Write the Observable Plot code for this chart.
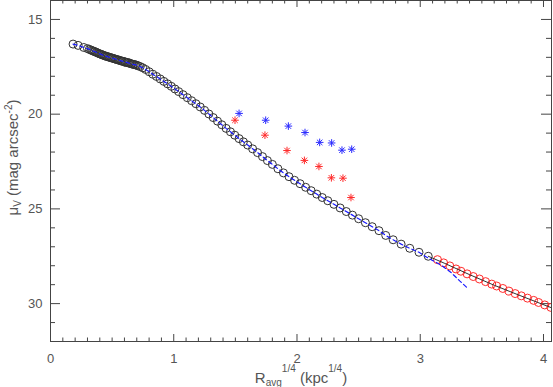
<!DOCTYPE html>
<html><head><meta charset="utf-8">
<script src="https://cdn.jsdelivr.net/npm/d3@7"></script>
<script src="https://cdn.jsdelivr.net/npm/@observablehq/plot@0.6"></script>
<style>html,body{margin:0;padding:0;background:#fff;} #chart{width:553px;height:387px;overflow:hidden}</style>
</head><body><div id="chart"></div>
<script>
// Black profile points (R_avg^1/4, mu_V)
const blackR = [0.183,0.224,0.270,0.300,0.315,0.330,0.340,0.350,0.360,0.370,0.380,0.390,0.400,0.410,0.420,0.430,0.440,0.450,0.460,0.470,0.480,0.490,0.500,0.510,0.520,0.530,0.540,0.550,0.560,0.570,0.580,0.590,0.600,0.610,0.620,0.630,0.640,0.650,0.660,0.670,0.680,0.690,0.700,0.712,0.728,0.748,0.772,0.800,0.830,0.860,0.890,0.920,0.950,0.980,1.010,1.040,1.075,1.110,1.145,1.180,1.215,1.250,1.285,1.320,1.355,1.390,1.425,1.460,1.495,1.530,1.565,1.600,1.640,1.680,1.720,1.760,1.800,1.845,1.890,1.935,1.980,2.025,2.070,2.115,2.160,2.205,2.250,2.300,2.350,2.400,2.450,2.500,2.555,2.610,2.665,2.720,2.780,2.845,2.915,2.990,3.065];
const blackMu = [16.30,16.37,16.48,16.54,16.58,16.62,16.65,16.68,16.70,16.73,16.76,16.79,16.82,16.84,16.87,16.89,16.92,16.94,16.96,16.98,17.00,17.02,17.04,17.06,17.08,17.10,17.12,17.14,17.16,17.18,17.20,17.22,17.24,17.26,17.27,17.29,17.31,17.33,17.35,17.37,17.38,17.40,17.42,17.45,17.49,17.55,17.64,17.76,17.89,18.01,18.14,18.27,18.40,18.53,18.67,18.81,18.97,19.13,19.29,19.45,19.62,19.80,19.99,20.18,20.37,20.56,20.75,20.93,21.11,21.29,21.46,21.63,21.83,22.03,22.24,22.45,22.65,22.88,23.10,23.30,23.49,23.67,23.86,24.04,24.22,24.40,24.57,24.76,24.95,25.14,25.33,25.52,25.73,25.94,26.15,26.40,26.63,26.86,27.08,27.29,27.50];
// Red (outer) profile points
const redR = [3.14,3.19,3.24,3.29,3.33,3.38,3.43,3.48,3.53,3.58,3.62,3.67,3.72,3.77,3.82,3.87,3.92,3.96,4.01,4.06];
const redMu = [27.68,27.85,28.01,28.17,28.29,28.43,28.57,28.70,28.84,28.97,29.07,29.20,29.34,29.47,29.59,29.71,29.83,29.94,30.07,30.20];
// Blue dashed model beyond the black points
const blueExtR = [3.04,3.10,3.18,3.25,3.32,3.39];
const blueExtMu = [27.50,27.72,28.02,28.36,28.80,29.22];
// Black solid fit through outer points
const fitR = [3.065,3.20,3.40,3.60,3.80,4.065];
const fitMu = [27.50,27.88,28.47,29.03,29.55,30.22];
// Asterisks
const starBlueR = [1.530,1.746,1.930,2.065,2.184,2.281,2.365,2.444];
const starBlueMu = [19.96,20.32,20.63,20.97,21.49,21.52,21.90,21.85];
const starRedR = [1.497,1.740,1.919,2.060,2.178,2.279,2.373,2.438];
const starRedMu = [20.32,21.11,21.92,22.44,22.76,23.36,23.38,24.40];
// Ticks
const xMajor = [0,1,2,3,4];
const yMajor = [15,20,25,30];
const xMinor = d3.range(1, 41).map(i => i / 10).filter(v => Math.abs(v - Math.round(v)) > 1e-6);
const yMinor = d3.range(15, 32).filter(v => v % 5 !== 0);
const xDomain = [0, 4.065];
const yDomain = [32, 14];

const xLabel = "Ravg1/4 (kpc1/4)";
const yLabel = "μV (mag arcsec-2)";

const zip = (a, b) => a.map((r, i) => ({r, mu: b[i]}));
const black = zip(blackR, blackMu);
const red = zip(redR, redMu);
const blueModel = black.filter(d => d.r < 3.0).concat(zip(blueExtR, blueExtMu));
const fit = zip(fitR, fitMu);
const starsBlue = zip(starBlueR, starBlueMu);
const starsRed = zip(starRedR, starRedMu);

const asterisk = {
  draw(context, size) {
    const r = Math.sqrt(size / Math.PI);
    const d = r * 0.72;
    context.moveTo(0, -r); context.lineTo(0, r);
    context.moveTo(-r, 0); context.lineTo(r, 0);
    context.moveTo(-d, -d); context.lineTo(d, d);
    context.moveTo(-d, d); context.lineTo(d, -d);
  }
};

const W = 553, H = 387, ML = 50, MR = 2, MT = 0, MB = 46;
const axisColor = "#444";
const textColor = "#555";

// Inward ticks drawn as rules anchored at the frame edges (domain ends), length set by insets in px
const tickRulesX = (ticks, len) => [
  Plot.ruleX(ticks, {x: d => d, y1: yDomain[0], y2: yDomain[0], insetTop: -len, stroke: axisColor, strokeWidth: 1}),
  Plot.ruleX(ticks, {x: d => d, y1: yDomain[1], y2: yDomain[1], insetBottom: -len, stroke: axisColor, strokeWidth: 1})
];
const tickRulesY = (ticks, len) => [
  Plot.ruleY(ticks, {y: d => d, x1: xDomain[0], x2: xDomain[0], insetRight: -len, stroke: axisColor, strokeWidth: 1}),
  Plot.ruleY(ticks, {y: d => d, x1: xDomain[1], x2: xDomain[1], insetLeft: -len, stroke: axisColor, strokeWidth: 1})
];

const svg = Plot.plot({
  width: W, height: H, marginLeft: ML, marginRight: MR, marginTop: MT, marginBottom: MB,
  style: {fontFamily: "Liberation Sans, Arial, sans-serif", fontSize: "13px", background: "white", color: textColor},
  x: {domain: xDomain, label: null},
  y: {domain: yDomain, label: null},
  marks: [
    Plot.frame({stroke: axisColor}),
    ...tickRulesX(xMajor, 7),
    ...tickRulesX(xMinor, 3.5),
    ...tickRulesY(yMajor, 10),
    ...tickRulesY(yMinor, 5),
    // tick labels
    Plot.axisX(xMajor, {anchor: "bottom", tickSize: 0, tickPadding: 12, fill: textColor, fontSize: 13, tickFormat: d => String(d), label: null}),
    Plot.axisY(yMajor, {anchor: "left", tickSize: 0, tickPadding: 8, fill: textColor, fontSize: 13, tickFormat: d => String(d), label: null}),
    // data
    Plot.dot(black, {x: "r", y: "mu", r: 4, stroke: "#333", strokeWidth: 1, fill: "none", clip: true}),
    Plot.dot(red, {x: "r", y: "mu", r: 4, stroke: "#ff2a2a", strokeWidth: 1, fill: "none", clip: true}),
    Plot.line(blueModel, {x: "r", y: "mu", stroke: "#1a1aff", strokeWidth: 1.2, strokeDasharray: "4,3", clip: true}),
    Plot.line(fit, {x: "r", y: "mu", stroke: "#333", strokeWidth: 1, clip: true}),
    Plot.dot(starsBlue, {x: "r", y: "mu", r: 3.8, symbol: asterisk, stroke: "#2a2aff", fill: "none", strokeWidth: 1}),
    Plot.dot(starsRed, {x: "r", y: "mu", r: 3.8, symbol: asterisk, stroke: "#ff2a2a", fill: "none", strokeWidth: 1}),
    // axis titles
    Plot.text([xLabel], {text: d => d, frameAnchor: "bottom", lineAnchor: "top", dy: 31, fontSize: 15, fill: textColor}),
    Plot.text([yLabel], {text: d => d, frameAnchor: "left", rotate: -90, fontSize: 15, fill: textColor})
  ]
});

function findText(str) {
  return d3.select(svg).selectAll("text").filter(function () { return this.textContent === str; });
}
function rich(t, parts) {
  t.text(null);
  for (const p of parts) {
    const ts = t.append("tspan").text(p.t);
    if (p.s) ts.attr("font-size", p.s);
    if (p.dy) ts.attr("dy", p.dy);
  }
}
rich(findText(xLabel), [
  {t: "R"}, {t: "avg", s: 10, dy: 3}, {t: "1/4", s: 10, dy: -14},
  {t: " (kpc", s: 15, dy: 11}, {t: "1/4", s: 10, dy: -11}, {t: ")", s: 15, dy: 11}
]);
const yl = findText(yLabel);
yl.attr("transform", "translate(17.5,157) rotate(-90)").attr("dy", null).attr("x", null).attr("y", null).attr("text-anchor", "middle");
rich(yl, [
  {t: "μ"}, {t: "V", s: 10, dy: 3}, {t: " (mag arcsec", s: 15, dy: -3},
  {t: "-2", s: 10, dy: -6}, {t: ")", s: 15, dy: 6}
]);

document.getElementById("chart").appendChild(svg);
</script></body></html>
